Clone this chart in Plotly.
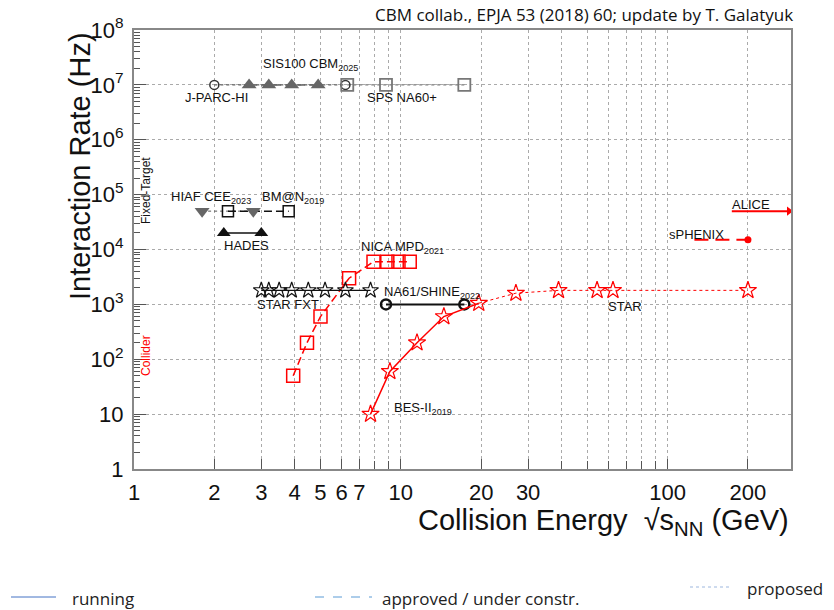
import plotly.graph_objects as go
import numpy as np

# ---------------- data ----------------
jparc_x = [2.0, 6.2];                 jparc_y = [1e7, 1e7]
sis100_x = [2.7, 3.2, 3.9, 4.9];      sis100_y = [1e7, 1e7, 1e7, 1e7]
sps_x = [6.3, 8.8, 17.3];             sps_y = [1e7, 1e7, 1e7]
hiaf_x = [1.8, 2.8];                  hiaf_y = [5e4, 5e4]
bmn_x = [2.25, 3.8];                  bmn_y = [5e4, 5e4]
hades_x = [2.17, 3.0];                hades_y = [2e4, 2e4]
nica_x = [3.95, 4.45, 5.0, 6.4, 7.9, 8.9, 9.8, 10.8]
nica_y = [50, 200, 600, 3000, 6000, 6000, 6000, 6000]
fxt_x = [3.0, 3.2, 3.5, 3.9, 4.5, 5.2, 6.2, 7.7]
fxt_y = [1800, 1800, 1800, 1800, 1800, 1800, 1800, 1800]
na61_x = [8.8, 17.3];                 na61_y = [1000, 1000]
bes_x = [7.7, 9.1, 11.5, 14.5, 19.6, 27, 39, 54.4, 62.4, 200]
bes_y = [10, 60, 200, 600, 1050, 1600, 1800, 1800, 1800, 1800]
bes_running_n = 5
alice_x = [174, 285];                 alice_y = [5e4, 5e4]
sphenix_x = [126, 200];               sphenix_y = [1.5e4, 1.5e4]

x_major = [1, 2, 3, 4, 5, 6, 7, 10, 20, 30, 100, 200]
x_minor = [8, 9, 40, 50, 60, 70, 80, 90]
y_major = [1, 10, 1e2, 1e3, 1e4, 1e5, 1e6, 1e7, 1e8]
y_labels = ["1", "10", "10<sup>2</sup>", "10<sup>3</sup>", "10<sup>4</sup>",
            "10<sup>5</sup>", "10<sup>6</sup>", "10<sup>7</sup>", "10<sup>8</sup>"]
y_minor = [m * 10**e for e in range(0, 8) for m in range(2, 10)]

RED = "#ff0000"
GRAY = "#666666"
BLACK = "#111111"
FONT = "Liberation Sans"

fig = go.Figure()

def line(x, y, color, dash, width=1.2):
    fig.add_trace(go.Scatter(x=x, y=y, mode="lines",
                             line=dict(color=color, dash=dash, width=width),
                             hoverinfo="skip"))

def marks(x, y, symbol, color, size, lw=1.5, fill=None):
    fig.add_trace(go.Scatter(x=x, y=y, mode="markers",
                             marker=dict(symbol=symbol, size=size, color=fill or color,
                                         line=dict(color=color, width=lw))))

# fixed target
line(jparc_x, jparc_y, "#333333", "dot", 1)
line(sps_x, sps_y, "#555555", "dot", 1)
line(sis100_x, sis100_y, GRAY, "8px,4px", 1.5)
marks(jparc_x, jparc_y, "circle-open", "#333333", 9, 1.5)
marks(sis100_x, sis100_y, "triangle-up", GRAY, 13, 0)
marks(sps_x, sps_y, "square-open", "#777777", 12, 1.8)

line(hiaf_x, hiaf_y, "#555555", "dot", 1)
line(bmn_x, bmn_y, BLACK, "8px,4px", 1.5)
marks(hiaf_x, hiaf_y, "triangle-down", GRAY, 13, 0)
marks(bmn_x, bmn_y, "square-open", BLACK, 11, 1.5)

line(hades_x, hades_y, BLACK, "solid", 1.5)
marks(hades_x, hades_y, "triangle-up", BLACK, 12, 0)

# collider
line(nica_x, nica_y, RED, "8px,4px", 1.5)
marks(nica_x, nica_y, "square-open", RED, 13, 1.5)

line(fxt_x, fxt_y, BLACK, "solid", 1.2)
marks(fxt_x, fxt_y, "star-open", BLACK, 12, 1.2)

line(na61_x, na61_y, BLACK, "solid", 2)
marks(na61_x, na61_y, "circle-open", BLACK, 10, 2.5)

line(bes_x[:bes_running_n], bes_y[:bes_running_n], RED, "solid", 1.5)
line(bes_x[bes_running_n - 1:], bes_y[bes_running_n - 1:], RED, "dot", 1)
marks(bes_x, bes_y, "star-open", RED, 13, 1.2)

line(alice_x, alice_y, RED, "solid", 2)
marks(alice_x[-1:], alice_y[-1:], "triangle-right", RED, 8, 0)

line(sphenix_x, sphenix_y, RED, "14px,7px", 2)
marks(sphenix_x[-1:], sphenix_y[-1:], "circle", RED, 7, 0)

# ---------------- layout ----------------
W, H = 834, 610
OFF = 8  # page body margin
PL, PR, PT, PB = 134, 791, 30, 469

def px(x):
    return (x - PL) / (PR - PL)

def py(y):
    return (PB - y) / (PB - PT)

ann = []
def label(text, x, y, color=BLACK, size=13, xanchor="left", angle=0, family=FONT):
    ann.append(dict(text=text, x=px(x), y=py(y), xref="paper", yref="paper",
                    showarrow=False, xanchor=xanchor, yanchor="middle",
                    textangle=angle, font=dict(family=family, size=size, color=color)))

label("SIS100 CBM<sub>2025</sub>", 261, 64)
label("J-PARC-HI", 183, 98)
label("SPS NA60+", 365, 98)
label("HIAF CEE<sub>2023</sub>", 169, 198)
label("BM@N<sub>2019</sub>", 260, 198)
label("HADES", 222, 246)
label("NICA MPD<sub>2021</sub>", 359, 248)
label("STAR FXT", 255, 305)
label("NA61/SHINE<sub>2022</sub>", 382, 292)
label("BES-II<sub>2019</sub>", 392, 408)
label("STAR", 606, 306)
label("ALICE", 730, 204)
label("sPHENIX", 667, 234)
label("Fixed-Target", 146, 191, size=12, xanchor="center", angle=-90)
label("Collider", 146, 356, color=RED, size=12, xanchor="center", angle=-90)

label("Interaction Rate (Hz)", 80, 166, size=29, xanchor="center", angle=-90)
label("Collision Energy  √s<sub>NN</sub> (GeV)", 791, 522, size=29, xanchor="right")
label("CBM collab., EPJA 53 (2018) 60; update by T. Galatyuk", 795, 15,
      size=17, xanchor="right", family="Open Sans")

LEG = "#4472C4"
label("running", 70, 598, size=17, family="Open Sans", color="#222222")
label("approved / under constr.", 380, 598, size=17, family="Open Sans", color="#222222")
label("proposed", 745, 588, size=17, family="Open Sans", color="#222222")

shapes = [
    dict(type="line", xref="paper", yref="paper", x0=px(11), x1=px(56), y0=py(597), y1=py(597),
         line=dict(color=LEG, width=1)),
    dict(type="line", xref="paper", yref="paper", x0=px(315), x1=px(372), y0=py(597), y1=py(597),
         line=dict(color="#5B9BD5", width=1, dash="dash")),
    dict(type="line", xref="paper", yref="paper", x0=px(690), x1=px(731), y0=py(587), y1=py(587),
         line=dict(color="#9DB7DE", width=1, dash="dot")),
]

fig.update_layout(
    width=W, height=H,
    margin=dict(l=PL - OFF, r=W - PR + OFF, t=PT - OFF, b=H - PB + OFF),
    paper_bgcolor="white", plot_bgcolor="white",
    showlegend=False,
    annotations=ann, shapes=shapes,
    font=dict(family=FONT, color=BLACK),
)

fig.update_xaxes(
    type="log", range=[0, np.log10(290)],
    tickmode="array", tickvals=x_major, ticktext=[str(v) for v in x_major],
    ticks="inside", ticklen=10, tickcolor="#555555",
    tickfont=dict(family=FONT, size=22, color=BLACK),
    ticklabelstandoff=3,
    showgrid=True, gridcolor="#aaaaaa", griddash="dot", gridwidth=1,
    minor=dict(tickmode="array", tickvals=x_minor, ticks="inside", ticklen=8,
               tickcolor="#555555", showgrid=True, gridcolor="#aaaaaa", griddash="dot"),
    showline=True, linecolor="#888888", linewidth=2, mirror=True, zeroline=False,
    automargin=False,
)
fig.update_yaxes(
    type="log", range=[0, 8],
    tickmode="array", tickvals=y_major, ticktext=y_labels,
    ticks="inside", ticklen=12, tickcolor="#555555",
    tickfont=dict(family=FONT, size=22, color=BLACK),
    ticklabelstandoff=4,
    showgrid=True, gridcolor="#aaaaaa", griddash="dot", gridwidth=1,
    minor=dict(tickmode="array", tickvals=y_minor, ticks="inside", ticklen=6,
               tickcolor="#555555", showgrid=False),
    showline=True, linecolor="#888888", linewidth=2, mirror=True, zeroline=False,
    automargin=False,
)

fig.write_html("out.html")
